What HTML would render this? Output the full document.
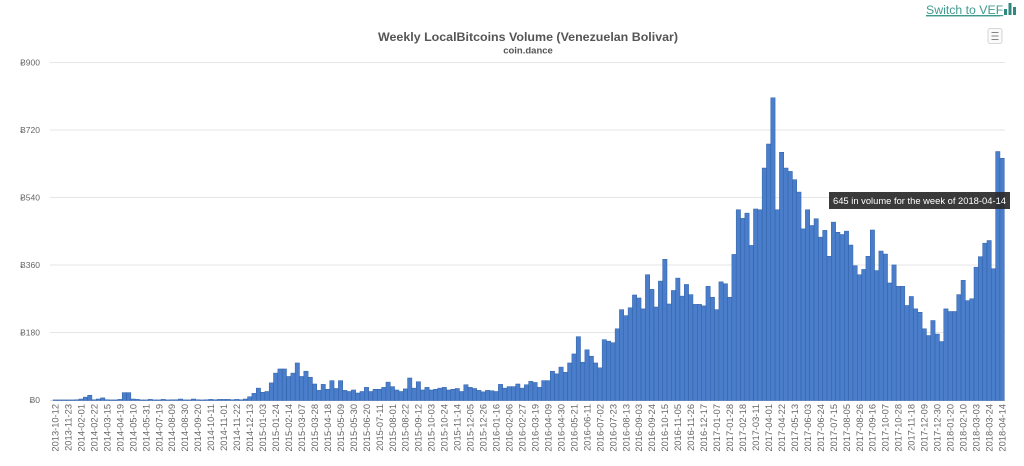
<!DOCTYPE html>
<html>
<head>
<meta charset="utf-8">
<style>
  html, body { margin:0; padding:0; background:#ffffff; }
  body { width:1024px; height:466px; overflow:hidden; position:relative; font-family:"Liberation Sans", "DejaVu Sans", sans-serif; }
  svg { position:absolute; left:0; top:0; }
  .yl { font-size:8.5px; fill:#666; text-anchor:end; }
  .xl { font-size:9.3px; fill:#666; text-anchor:end; }
</style>
</head>
<body>
<svg id="chart" width="1024" height="466" viewBox="0 0 1024 466" xmlns="http://www.w3.org/2000/svg">
  <rect x="0" y="0" width="1024" height="466" fill="#ffffff"/>
  <!-- link -->
  <text x="926" y="14" font-size="12.3" fill="#3f9b8f" text-decoration="underline" font-family="Liberation Sans, sans-serif">Switch to VEF</text>
  <line x1="926" y1="16" x2="1000" y2="16" stroke="#3f9b8f" stroke-width="0.8"/>
  <rect x="1004" y="9" width="3" height="6" fill="#2e8a7e"/>
  <rect x="1008.5" y="3" width="3" height="12" fill="#2e8a7e"/>
  <rect x="1013" y="7" width="3" height="8" fill="#2e8a7e"/>

  <!-- title -->
  <text x="528" y="41" font-size="12" font-weight="bold" fill="#555" text-anchor="middle" textLength="300" lengthAdjust="spacingAndGlyphs">Weekly LocalBitcoins Volume (Venezuelan Bolivar)</text>
  <text x="528" y="53.5" font-size="9.5" font-weight="bold" fill="#555" text-anchor="middle">coin.dance</text>

  <!-- menu button -->
  <rect x="988" y="28.5" width="14" height="15" rx="2" ry="2" fill="#fafafa" stroke="#cccccc" stroke-width="0.8"/>
  <line x1="991.5" y1="32.5" x2="998.5" y2="32.5" stroke="#777" stroke-width="0.9"/>
  <line x1="991.5" y1="36" x2="998.5" y2="36" stroke="#777" stroke-width="0.9"/>
  <line x1="991.5" y1="39.5" x2="998.5" y2="39.5" stroke="#777" stroke-width="0.9"/>

  <!-- grid -->
  <g stroke="#e6e6e6" stroke-width="1">
    <line x1="50" y1="62.5" x2="1005" y2="62.5"/>
    <line x1="50" y1="130" x2="1005" y2="130"/>
    <line x1="50" y1="197.5" x2="1005" y2="197.5"/>
    <line x1="50" y1="265" x2="1005" y2="265"/>
    <line x1="50" y1="332.5" x2="1005" y2="332.5"/>
  </g>
  <line x1="50" y1="400.5" x2="1005" y2="400.5" stroke="#e0e0e0" stroke-width="1"/>

  <!-- y labels -->
  <text class="yl" x="40" y="65.5">Ƀ900</text>
  <text class="yl" x="40" y="133">Ƀ720</text>
  <text class="yl" x="40" y="200.5">Ƀ540</text>
  <text class="yl" x="40" y="268">Ƀ360</text>
  <text class="yl" x="40" y="335.5">Ƀ180</text>
  <text class="yl" x="40" y="403">Ƀ0</text>

  <g id="bars"></g>

  <!-- x labels -->
  <g class="xlabels">
    <text class="xl" transform="translate(58.5 404) rotate(-90)">2013-10-12</text>
    <text class="xl" transform="translate(71.5 404) rotate(-90)">2013-11-23</text>
    <text class="xl" transform="translate(84.4 404) rotate(-90)">2014-02-01</text>
    <text class="xl" transform="translate(97.4 404) rotate(-90)">2014-02-22</text>
    <text class="xl" transform="translate(110.4 404) rotate(-90)">2014-03-15</text>
    <text class="xl" transform="translate(123.4 404) rotate(-90)">2014-04-19</text>
    <text class="xl" transform="translate(136.3 404) rotate(-90)">2014-05-10</text>
    <text class="xl" transform="translate(149.3 404) rotate(-90)">2014-05-31</text>
    <text class="xl" transform="translate(162.3 404) rotate(-90)">2014-07-19</text>
    <text class="xl" transform="translate(175.2 404) rotate(-90)">2014-08-09</text>
    <text class="xl" transform="translate(188.2 404) rotate(-90)">2014-08-30</text>
    <text class="xl" transform="translate(201.2 404) rotate(-90)">2014-09-20</text>
    <text class="xl" transform="translate(214.2 404) rotate(-90)">2014-10-11</text>
    <text class="xl" transform="translate(227.1 404) rotate(-90)">2014-11-01</text>
    <text class="xl" transform="translate(240.1 404) rotate(-90)">2014-11-22</text>
    <text class="xl" transform="translate(253.1 404) rotate(-90)">2014-12-13</text>
    <text class="xl" transform="translate(266.1 404) rotate(-90)">2015-01-03</text>
    <text class="xl" transform="translate(279.0 404) rotate(-90)">2015-01-24</text>
    <text class="xl" transform="translate(292.0 404) rotate(-90)">2015-02-14</text>
    <text class="xl" transform="translate(305.0 404) rotate(-90)">2015-03-07</text>
    <text class="xl" transform="translate(317.9 404) rotate(-90)">2015-03-28</text>
    <text class="xl" transform="translate(330.9 404) rotate(-90)">2015-04-18</text>
    <text class="xl" transform="translate(343.9 404) rotate(-90)">2015-05-09</text>
    <text class="xl" transform="translate(356.9 404) rotate(-90)">2015-05-30</text>
    <text class="xl" transform="translate(369.8 404) rotate(-90)">2015-06-20</text>
    <text class="xl" transform="translate(382.8 404) rotate(-90)">2015-07-11</text>
    <text class="xl" transform="translate(395.8 404) rotate(-90)">2015-08-01</text>
    <text class="xl" transform="translate(408.7 404) rotate(-90)">2015-08-22</text>
    <text class="xl" transform="translate(421.7 404) rotate(-90)">2015-09-12</text>
    <text class="xl" transform="translate(434.7 404) rotate(-90)">2015-10-03</text>
    <text class="xl" transform="translate(447.7 404) rotate(-90)">2015-10-24</text>
    <text class="xl" transform="translate(460.6 404) rotate(-90)">2015-11-14</text>
    <text class="xl" transform="translate(473.6 404) rotate(-90)">2015-12-05</text>
    <text class="xl" transform="translate(486.6 404) rotate(-90)">2015-12-26</text>
    <text class="xl" transform="translate(499.5 404) rotate(-90)">2016-01-16</text>
    <text class="xl" transform="translate(512.5 404) rotate(-90)">2016-02-06</text>
    <text class="xl" transform="translate(525.5 404) rotate(-90)">2016-02-27</text>
    <text class="xl" transform="translate(538.5 404) rotate(-90)">2016-03-19</text>
    <text class="xl" transform="translate(551.4 404) rotate(-90)">2016-04-09</text>
    <text class="xl" transform="translate(564.4 404) rotate(-90)">2016-04-30</text>
    <text class="xl" transform="translate(577.4 404) rotate(-90)">2016-05-21</text>
    <text class="xl" transform="translate(590.4 404) rotate(-90)">2016-06-11</text>
    <text class="xl" transform="translate(603.3 404) rotate(-90)">2016-07-02</text>
    <text class="xl" transform="translate(616.3 404) rotate(-90)">2016-07-23</text>
    <text class="xl" transform="translate(629.3 404) rotate(-90)">2016-08-13</text>
    <text class="xl" transform="translate(642.2 404) rotate(-90)">2016-09-03</text>
    <text class="xl" transform="translate(655.2 404) rotate(-90)">2016-09-24</text>
    <text class="xl" transform="translate(668.2 404) rotate(-90)">2016-10-15</text>
    <text class="xl" transform="translate(681.2 404) rotate(-90)">2016-11-05</text>
    <text class="xl" transform="translate(694.1 404) rotate(-90)">2016-11-26</text>
    <text class="xl" transform="translate(707.1 404) rotate(-90)">2016-12-17</text>
    <text class="xl" transform="translate(720.1 404) rotate(-90)">2017-01-07</text>
    <text class="xl" transform="translate(733.0 404) rotate(-90)">2017-01-28</text>
    <text class="xl" transform="translate(746.0 404) rotate(-90)">2017-02-18</text>
    <text class="xl" transform="translate(759.0 404) rotate(-90)">2017-03-11</text>
    <text class="xl" transform="translate(772.0 404) rotate(-90)">2017-04-01</text>
    <text class="xl" transform="translate(784.9 404) rotate(-90)">2017-04-22</text>
    <text class="xl" transform="translate(797.9 404) rotate(-90)">2017-05-13</text>
    <text class="xl" transform="translate(810.9 404) rotate(-90)">2017-06-03</text>
    <text class="xl" transform="translate(823.8 404) rotate(-90)">2017-06-24</text>
    <text class="xl" transform="translate(836.8 404) rotate(-90)">2017-07-15</text>
    <text class="xl" transform="translate(849.8 404) rotate(-90)">2017-08-05</text>
    <text class="xl" transform="translate(862.8 404) rotate(-90)">2017-08-26</text>
    <text class="xl" transform="translate(875.7 404) rotate(-90)">2017-09-16</text>
    <text class="xl" transform="translate(888.7 404) rotate(-90)">2017-10-07</text>
    <text class="xl" transform="translate(901.7 404) rotate(-90)">2017-10-28</text>
    <text class="xl" transform="translate(914.7 404) rotate(-90)">2017-11-18</text>
    <text class="xl" transform="translate(927.6 404) rotate(-90)">2017-12-09</text>
    <text class="xl" transform="translate(940.6 404) rotate(-90)">2017-12-30</text>
    <text class="xl" transform="translate(953.6 404) rotate(-90)">2018-01-20</text>
    <text class="xl" transform="translate(966.5 404) rotate(-90)">2018-02-10</text>
    <text class="xl" transform="translate(979.5 404) rotate(-90)">2018-03-03</text>
    <text class="xl" transform="translate(992.5 404) rotate(-90)">2018-03-24</text>
    <text class="xl" transform="translate(1005.5 404) rotate(-90)">2018-04-14</text>
  </g>

  <!-- tooltip -->
  <g id="tip">
    <rect x="829" y="192" width="181" height="17" fill="#2b2b2b" fill-opacity="0.93"/>
    <text x="833" y="204" font-size="9" fill="#ffffff" textLength="173" lengthAdjust="spacingAndGlyphs">645 in volume for the week of 2018-04-14</text>
  </g>
</svg>
<script>
(function(){
  var v=[1,1,0,1,1,2,4,9,14,2,4,7,2,1,1,3,21,21,4,3,1,1,3,1,1,3,1,2,2,4,1,1,4,2,1,2,3,2,3,3,3,2,3,2,4,
  10,19,33,22,24,47,73,84,84,64,73,100,64,78,62,44,27,43,30,53,32,53,27,24,28,20,24,35,24,30,30,35,49,37,28,24,31,60,33,50,28,35,28,30,33,35,28,30,32,24,42,35,32,27,23,27,26,24,43,33,37,37,44,33,42,51,48,35,53,53,78,71,89,75,100,124,170,102,135,118,100,87,
  162,158,154,191,242,226,247,281,273,244,335,296,249,318,376,257,293,326,278,309,282,256,256,252,304,275,242,316,311,275,389,508,485,499,413,510,508,619,683,806,508,661,619,610,588,555,457,508,466,484,435,453,384,475,448,442,451,414,359,335,349,384,454,346,398,390,313,361,304,304,253,277,244,235,191,173,213,177,157,244,237,237,282,320,266,271,355,383,419,426,351,663,645];
  var g=document.getElementById('bars');
  var ns='http://www.w3.org/2000/svg';
  var x0=53, pw=4.324, base=400.5, s=338/900;
  for(var i=0;i<v.length;i++){
    var h=v[i]*s; if(h<0.6) h=0.6;
    var r=document.createElementNS(ns,'rect');
    r.setAttribute('x',(x0+i*pw).toFixed(2));
    r.setAttribute('y',(base-h).toFixed(2));
    r.setAttribute('width',pw.toFixed(3));
    r.setAttribute('height',h.toFixed(2));
    r.setAttribute('fill','#4a7ecb');
    r.setAttribute('stroke','#2f60a8');
    r.setAttribute('stroke-width','0.5');
    g.appendChild(r);
  }
})();
</script>
</body>
</html>
